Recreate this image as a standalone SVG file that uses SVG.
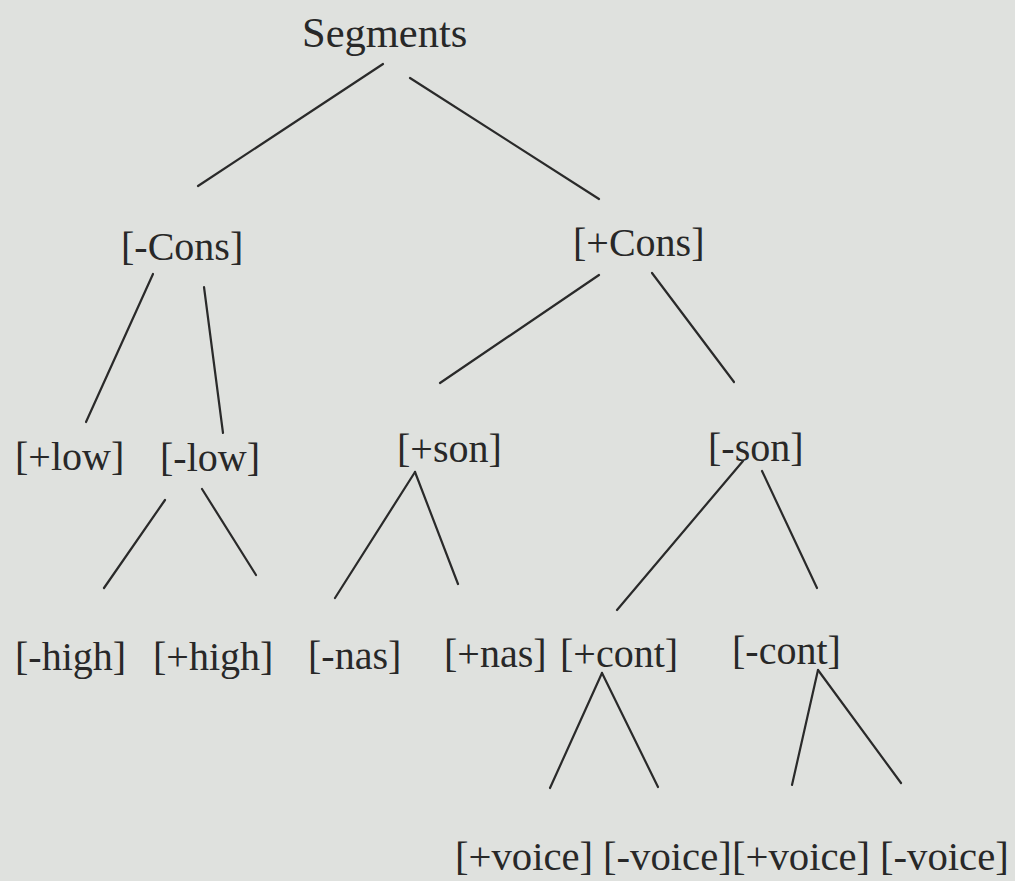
<svg xmlns="http://www.w3.org/2000/svg" width="1015" height="881" viewBox="0 0 1015 881">
<style>
.lbl{font-family:"Liberation Serif","Times New Roman",serif;font-size:40px;fill:#282828}
.v{font-size:40.7px}
.big{font-size:42.5px}
.edge{stroke:#2a2a2a;stroke-width:2.2;stroke-linecap:round;fill:none}
</style>
<rect width="1015" height="881" fill="#dfe1de"/>
<g id="connectors">
<line class="edge" x1="383" y1="64" x2="198" y2="186"/>
<line class="edge" x1="410" y1="78" x2="599" y2="199"/>
<line class="edge" x1="153" y1="274" x2="86" y2="422"/>
<line class="edge" x1="204" y1="287" x2="223" y2="433"/>
<line class="edge" x1="599" y1="275" x2="440" y2="383"/>
<line class="edge" x1="652" y1="273" x2="734" y2="382"/>
<line class="edge" x1="165" y1="500" x2="104" y2="588"/>
<line class="edge" x1="202" y1="489" x2="256" y2="575"/>
<line class="edge" x1="415" y1="472" x2="335" y2="598"/>
<line class="edge" x1="415" y1="472" x2="458" y2="584"/>
<line class="edge" x1="743" y1="461" x2="617" y2="610"/>
<line class="edge" x1="762" y1="471" x2="817" y2="588"/>
<line class="edge" x1="602" y1="673" x2="550" y2="788"/>
<line class="edge" x1="602" y1="673" x2="658" y2="787"/>
<line class="edge" x1="818" y1="670" x2="792" y2="785"/>
<line class="edge" x1="818" y1="670" x2="901" y2="783"/>
</g>
<g id="segments"><text class="lbl big" x="302" y="47">Segments</text></g>
<g id="minus-cons"><text class="lbl" x="121" y="260">[-Cons]</text></g>
<g id="plus-cons"><text class="lbl" x="573" y="256">[+Cons]</text></g>
<g id="plus-low"><text class="lbl" x="15" y="470">[+low]</text></g>
<g id="minus-low"><text class="lbl" x="160" y="471">[-low]</text></g>
<g id="plus-son"><text class="lbl" x="397" y="462">[+son]</text></g>
<g id="minus-son"><text class="lbl" x="708" y="461">[-son]</text></g>
<g id="minus-high"><text class="lbl" x="15" y="670">[-high]</text></g>
<g id="plus-high"><text class="lbl" x="153" y="670">[+high]</text></g>
<g id="minus-nas"><text class="lbl" x="308" y="669">[-nas]</text></g>
<g id="plus-nas"><text class="lbl" x="444" y="667">[+nas]</text></g>
<g id="plus-cont"><text class="lbl" x="560" y="667">[+cont]</text></g>
<g id="minus-cont"><text class="lbl" x="732" y="664">[-cont]</text></g>
<g id="plus-voice-1"><text class="lbl v" x="455" y="870">[+voice]</text></g>
<g id="minus-voice-1"><text class="lbl v" x="603" y="870">[-voice]</text></g>
<g id="plus-voice-2"><text class="lbl v" x="732" y="870">[+voice]</text></g>
<g id="minus-voice-2"><text class="lbl v" x="880" y="870">[-voice]</text></g>
</svg>
